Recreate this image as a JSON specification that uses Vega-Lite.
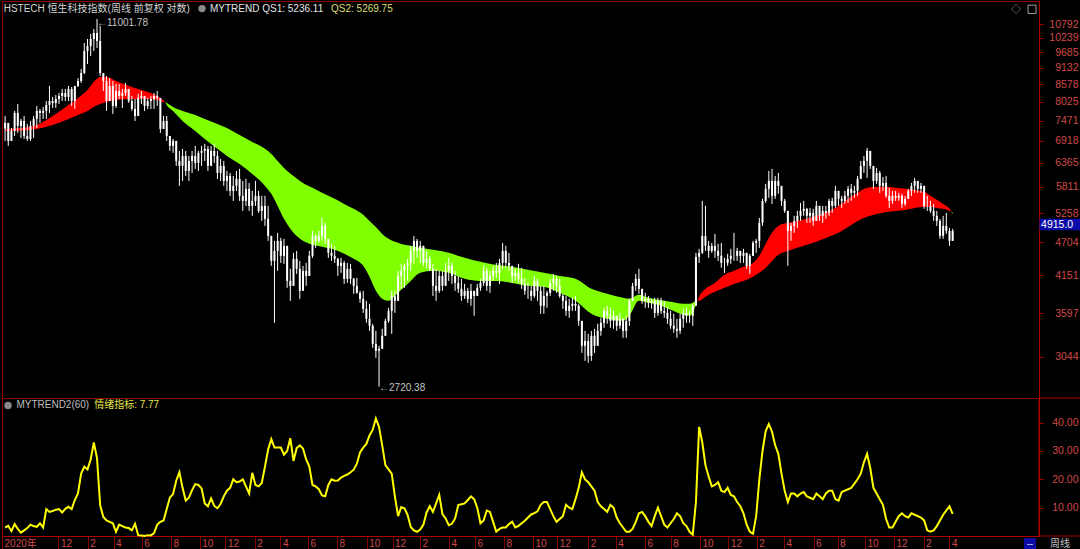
{
"$schema":"https://vega.github.io/schema/vega-lite/v6.json",
"background":"#000000",
"padding":0,
"spacing":0,
"bounds":"flush",
"config":{"view":{"stroke":"#8b0000","strokeWidth":1},"font":"Liberation Sans, Noto Sans CJK SC","axis":{"labelFont":"Liberation Sans, Noto Sans CJK SC","labelFontSize":10.5,"labelColor":"#d04848","domainColor":"#b00000","tickColor":"#b00000","grid":false}},
"datasets":{
"k":[
{"w":0,"o":7250,"h":7610,"l":6920,"c":7410},{"w":1,"o":7410,"h":7410,"l":6790,"c":6920},{"w":2,"o":6920,"h":7270,"l":6920,"c":7187},{"w":3,"o":7187,"h":7755,"l":7052,"c":7697},{"w":4,"o":7697,"h":7964,"l":7133,"c":7326},{"w":5,"o":7326,"h":7524,"l":6999,"c":7466},{"w":6,"o":7466,"h":7610,"l":6972,"c":7052},{"w":7,"o":7052,"h":7382,"l":6920,"c":6972},{"w":8,"o":6972,"h":7466,"l":6920,"c":7326},{"w":9,"o":7326,"h":7610,"l":6999,"c":7524},
{"w":10,"o":7524,"h":7904,"l":7270,"c":7755},{"w":11,"o":7755,"h":7815,"l":7410,"c":7697},{"w":12,"o":7697,"h":7874,"l":7524,"c":7755},{"w":13,"o":7755,"h":8055,"l":7524,"c":7934},{"w":14,"o":7934,"h":8528,"l":7697,"c":8055},{"w":15,"o":8055,"h":8179,"l":7844,"c":7994},{"w":16,"o":7994,"h":8241,"l":7844,"c":8117},{"w":17,"o":8117,"h":8304,"l":7964,"c":8210},{"w":18,"o":8210,"h":8432,"l":8055,"c":8304},{"w":19,"o":8304,"h":8432,"l":8055,"c":8179},
{"w":20,"o":8179,"h":8528,"l":8055,"c":8432},{"w":21,"o":8432,"h":8496,"l":7904,"c":8055},{"w":22,"o":8055,"h":8528,"l":7815,"c":8528},{"w":23,"o":8528,"h":8788,"l":8496,"c":8691},{"w":24,"o":8691,"h":9095,"l":8625,"c":8958},{"w":25,"o":8958,"h":10040,"l":8924,"c":9740},{"w":26,"o":9740,"h":10194,"l":9270,"c":9926},{"w":27,"o":9926,"h":10389,"l":9556,"c":10194},{"w":28,"o":10194,"h":10589,"l":9740,"c":10430},{"w":29,"o":10430,"h":11001.78,"l":9852,"c":10117},
{"w":30,"o":10117,"h":10710,"l":8855,"c":8958},{"w":31,"o":8958,"h":8958,"l":8367,"c":8691},{"w":32,"o":8691,"h":8855,"l":7755,"c":8055},{"w":33,"o":8055,"h":8788,"l":8055,"c":8528},{"w":34,"o":8528,"h":8691,"l":7668,"c":7904},{"w":35,"o":7904,"h":8593,"l":7844,"c":8367},{"w":36,"o":8367,"h":8593,"l":8117,"c":8210},{"w":37,"o":8210,"h":8432,"l":7844,"c":8304},{"w":38,"o":8304,"h":8625,"l":8210,"c":8432},{"w":39,"o":8432,"h":8432,"l":7994,"c":8055},
{"w":40,"o":8055,"h":8210,"l":7755,"c":7815},{"w":41,"o":7815,"h":8117,"l":7466,"c":7610},{"w":42,"o":7610,"h":8273,"l":7610,"c":8148},{"w":43,"o":8148,"h":8367,"l":7964,"c":8210},{"w":44,"o":8210,"h":8210,"l":7755,"c":7904},{"w":45,"o":7904,"h":8148,"l":7815,"c":8055},{"w":46,"o":8055,"h":8210,"l":7815,"c":8117},{"w":47,"o":8117,"h":8304,"l":7815,"c":8210},{"w":48,"o":8210,"h":8367,"l":7904,"c":8148},{"w":49,"o":8148,"h":8148,"l":7133,"c":7243},
{"w":50,"o":7243,"h":7610,"l":7243,"c":7466},{"w":51,"o":7466,"h":7610,"l":6920,"c":7052},{"w":52,"o":7052,"h":7052,"l":6662,"c":6790},{"w":53,"o":6790,"h":6972,"l":6612,"c":6920},{"w":54,"o":6920,"h":6920,"l":6293,"c":6413},{"w":55,"o":6413,"h":6662,"l":5833,"c":6293},{"w":56,"o":6293,"h":6714,"l":5944,"c":6537},{"w":57,"o":6537,"h":6662,"l":6058,"c":6174},{"w":58,"o":6174,"h":6537,"l":5944,"c":6413},{"w":59,"o":6413,"h":6662,"l":6128,"c":6537},
{"w":60,"o":6537,"h":6790,"l":6222,"c":6365},{"w":61,"o":6365,"h":6662,"l":6174,"c":6612},{"w":62,"o":6612,"h":6790,"l":6293,"c":6662},{"w":63,"o":6662,"h":6842,"l":6413,"c":6714},{"w":64,"o":6714,"h":6790,"l":6174,"c":6293},{"w":65,"o":6293,"h":6790,"l":6293,"c":6662},{"w":66,"o":6662,"h":6842,"l":6365,"c":6537},{"w":67,"o":6537,"h":6662,"l":5990,"c":6128},{"w":68,"o":6128,"h":6463,"l":5944,"c":6293},{"w":69,"o":6293,"h":6413,"l":5833,"c":5944},
{"w":70,"o":5944,"h":6174,"l":5723,"c":6058},{"w":71,"o":6058,"h":6128,"l":5616,"c":5723},{"w":72,"o":5723,"h":6058,"l":5509,"c":5833},{"w":73,"o":5833,"h":6174,"l":5723,"c":5990},{"w":74,"o":5990,"h":6222,"l":5509,"c":5616},{"w":75,"o":5616,"h":5944,"l":5304,"c":5509},{"w":76,"o":5509,"h":5990,"l":5406,"c":5767},{"w":77,"o":5767,"h":5899,"l":5304,"c":5406},{"w":78,"o":5406,"h":5723,"l":5205,"c":5509},{"w":79,"o":5509,"h":5944,"l":5406,"c":5616},
{"w":80,"o":5616,"h":5723,"l":5264,"c":5304},{"w":81,"o":5304,"h":5616,"l":5106,"c":5406},{"w":82,"o":5406,"h":5616,"l":5010,"c":5146},{"w":83,"o":5146,"h":5406,"l":4733,"c":4824},{"w":84,"o":4824,"h":4824,"l":4304,"c":4386},{"w":85,"o":4386,"h":4733,"l":3466,"c":4556},{"w":86,"o":4556,"h":4879,"l":4223,"c":4733},{"w":87,"o":4733,"h":4787,"l":4353,"c":4471},{"w":88,"o":4471,"h":4769,"l":4337,"c":4644},{"w":89,"o":4644,"h":4644,"l":3959,"c":4065},
{"w":90,"o":4065,"h":4256,"l":3768,"c":3989},{"w":91,"o":3989,"h":4522,"l":3989,"c":4420},{"w":92,"o":4420,"h":4556,"l":4175,"c":4256},{"w":93,"o":4256,"h":4386,"l":3797,"c":3914},{"w":94,"o":3914,"h":4304,"l":3914,"c":4223},{"w":95,"o":4223,"h":4353,"l":3989,"c":4143},{"w":96,"o":4143,"h":4556,"l":4143,"c":4471},{"w":97,"o":4471,"h":4916,"l":4437,"c":4824},{"w":98,"o":4824,"h":4860,"l":4609,"c":4733},{"w":99,"o":4733,"h":4916,"l":4697,"c":4824},
{"w":100,"o":4824,"h":5165,"l":4733,"c":5010},{"w":101,"o":5010,"h":5068,"l":4679,"c":4769},{"w":102,"o":4769,"h":4769,"l":4437,"c":4522},{"w":103,"o":4522,"h":4679,"l":4386,"c":4471},{"w":104,"o":4471,"h":4644,"l":4353,"c":4420},{"w":105,"o":4420,"h":4437,"l":4143,"c":4304},{"w":106,"o":4304,"h":4437,"l":4191,"c":4353},{"w":107,"o":4353,"h":4386,"l":4019,"c":4097},{"w":108,"o":4097,"h":4353,"l":4034,"c":4256},{"w":109,"o":4256,"h":4337,"l":4019,"c":4097},
{"w":110,"o":4097,"h":4112,"l":3870,"c":3989},{"w":111,"o":3989,"h":4112,"l":3870,"c":3884},{"w":112,"o":3884,"h":3914,"l":3740,"c":3797},{"w":113,"o":3797,"h":3914,"l":3600,"c":3656},{"w":114,"o":3656,"h":3768,"l":3466,"c":3519},{"w":115,"o":3519,"h":3726,"l":3362,"c":3427},{"w":116,"o":3427,"h":3453,"l":3152,"c":3200},{"w":117,"o":3200,"h":3362,"l":3034,"c":3116},{"w":118,"o":3116,"h":3176,"l":2720.38,"c":3140},{"w":119,"o":3140,"h":3388,"l":3140,"c":3299},
{"w":120,"o":3299,"h":3519,"l":3299,"c":3492},{"w":121,"o":3492,"h":3670,"l":3466,"c":3627},{"w":122,"o":3627,"h":3914,"l":3324,"c":3840},{"w":123,"o":3840,"h":3914,"l":3600,"c":3768},{"w":124,"o":3768,"h":4223,"l":3768,"c":4143},{"w":125,"o":4143,"h":4337,"l":3944,"c":4223},{"w":126,"o":4223,"h":4337,"l":3959,"c":4304},{"w":127,"o":4304,"h":4420,"l":4065,"c":4353},{"w":128,"o":4353,"h":4644,"l":4223,"c":4556},{"w":129,"o":4556,"h":4824,"l":4337,"c":4733},
{"w":130,"o":4733,"h":4769,"l":4437,"c":4556},{"w":131,"o":4556,"h":4733,"l":4353,"c":4644},{"w":132,"o":4644,"h":4644,"l":4304,"c":4353},{"w":133,"o":4353,"h":4556,"l":4272,"c":4420},{"w":134,"o":4420,"h":4471,"l":4223,"c":4256},{"w":135,"o":4256,"h":4337,"l":3840,"c":3989},{"w":136,"o":3989,"h":4256,"l":3768,"c":3914},{"w":137,"o":3914,"h":4223,"l":3884,"c":4143},{"w":138,"o":4143,"h":4223,"l":3914,"c":3989},{"w":139,"o":3989,"h":4353,"l":3989,"c":4223},
{"w":140,"o":4223,"h":4437,"l":4065,"c":4304},{"w":141,"o":4304,"h":4353,"l":4019,"c":4143},{"w":142,"o":4143,"h":4223,"l":3914,"c":4034},{"w":143,"o":4034,"h":4143,"l":3884,"c":3944},{"w":144,"o":3944,"h":4097,"l":3768,"c":3840},{"w":145,"o":3840,"h":4019,"l":3797,"c":3914},{"w":146,"o":3914,"h":3959,"l":3740,"c":3797},{"w":147,"o":3797,"h":4019,"l":3698,"c":3914},{"w":148,"o":3914,"h":3914,"l":3560,"c":3840},{"w":149,"o":3840,"h":4019,"l":3840,"c":3959},
{"w":150,"o":3959,"h":4097,"l":3914,"c":4034},{"w":151,"o":4034,"h":4304,"l":3989,"c":4223},{"w":152,"o":4223,"h":4272,"l":3914,"c":3989},{"w":153,"o":3989,"h":4223,"l":3884,"c":4143},{"w":154,"o":4143,"h":4304,"l":4065,"c":4223},{"w":155,"o":4223,"h":4353,"l":4112,"c":4191},{"w":156,"o":4191,"h":4420,"l":4019,"c":4353},{"w":157,"o":4353,"h":4697,"l":4256,"c":4556},{"w":158,"o":4556,"h":4644,"l":4272,"c":4353},{"w":159,"o":4353,"h":4522,"l":4223,"c":4304},
{"w":160,"o":4304,"h":4304,"l":4034,"c":4143},{"w":161,"o":4143,"h":4256,"l":4065,"c":4191},{"w":162,"o":4191,"h":4337,"l":4034,"c":4097},{"w":163,"o":4097,"h":4272,"l":3944,"c":4019},{"w":164,"o":4019,"h":4112,"l":3855,"c":3914},{"w":165,"o":3914,"h":4034,"l":3797,"c":3914},{"w":166,"o":3914,"h":3989,"l":3768,"c":3840},{"w":167,"o":3840,"h":4143,"l":3812,"c":4065},{"w":168,"o":4065,"h":4097,"l":3768,"c":3914},{"w":169,"o":3914,"h":3989,"l":3587,"c":3698},
{"w":170,"o":3698,"h":3989,"l":3587,"c":3840},{"w":171,"o":3840,"h":3914,"l":3670,"c":3884},{"w":172,"o":3884,"h":4097,"l":3840,"c":4034},{"w":173,"o":4034,"h":4175,"l":3914,"c":4097},{"w":174,"o":4097,"h":4143,"l":3884,"c":3989},{"w":175,"o":3989,"h":4097,"l":3812,"c":3840},{"w":176,"o":3840,"h":3870,"l":3656,"c":3768},{"w":177,"o":3768,"h":3840,"l":3560,"c":3627},{"w":178,"o":3627,"h":3797,"l":3533,"c":3698},{"w":179,"o":3698,"h":3812,"l":3627,"c":3726},
{"w":180,"o":3726,"h":3840,"l":3627,"c":3698},{"w":181,"o":3698,"h":3726,"l":3427,"c":3492},{"w":182,"o":3492,"h":3492,"l":3092,"c":3176},{"w":183,"o":3176,"h":3362,"l":2999,"c":3236},{"w":184,"o":3236,"h":3324,"l":2977,"c":3057},{"w":185,"o":3057,"h":3362,"l":2999,"c":3299},{"w":186,"o":3299,"h":3388,"l":3092,"c":3176},{"w":187,"o":3176,"h":3453,"l":3176,"c":3362},{"w":188,"o":3362,"h":3533,"l":3299,"c":3466},{"w":189,"o":3466,"h":3670,"l":3401,"c":3627},
{"w":190,"o":3627,"h":3698,"l":3453,"c":3560},{"w":191,"o":3560,"h":3670,"l":3401,"c":3492},{"w":192,"o":3492,"h":3627,"l":3388,"c":3560},{"w":193,"o":3560,"h":3560,"l":3362,"c":3427},{"w":194,"o":3427,"h":3600,"l":3388,"c":3519},{"w":195,"o":3519,"h":3519,"l":3274,"c":3362},{"w":196,"o":3362,"h":3560,"l":3274,"c":3492},{"w":197,"o":3492,"h":3797,"l":3427,"c":3768},{"w":198,"o":3768,"h":4034,"l":3768,"c":3989},{"w":199,"o":3989,"h":4175,"l":3914,"c":4097},
{"w":200,"o":4097,"h":4256,"l":3870,"c":3944},{"w":201,"o":3944,"h":3944,"l":3726,"c":3768},{"w":202,"o":3768,"h":3884,"l":3670,"c":3797},{"w":203,"o":3797,"h":3840,"l":3670,"c":3740},{"w":204,"o":3740,"h":3797,"l":3656,"c":3768},{"w":205,"o":3768,"h":3812,"l":3533,"c":3600},{"w":206,"o":3600,"h":3812,"l":3560,"c":3768},{"w":207,"o":3768,"h":3812,"l":3587,"c":3627},{"w":208,"o":3627,"h":3768,"l":3533,"c":3600},{"w":209,"o":3600,"h":3684,"l":3453,"c":3519},
{"w":210,"o":3519,"h":3627,"l":3388,"c":3427},{"w":211,"o":3427,"h":3587,"l":3337,"c":3388},{"w":212,"o":3388,"h":3519,"l":3274,"c":3362},{"w":213,"o":3362,"h":3587,"l":3324,"c":3519},{"w":214,"o":3519,"h":3656,"l":3401,"c":3600},{"w":215,"o":3600,"h":3670,"l":3466,"c":3560},{"w":216,"o":3560,"h":3627,"l":3466,"c":3560},{"w":217,"o":3560,"h":3726,"l":3427,"c":3698},{"w":218,"o":3698,"h":4522,"l":3698,"c":4454},{"w":219,"o":4454,"h":4592,"l":4353,"c":4522},
{"w":220,"o":4522,"h":5509,"l":4505,"c":4824},{"w":221,"o":4824,"h":5406,"l":4556,"c":4644},{"w":222,"o":4644,"h":4733,"l":4437,"c":4556},{"w":223,"o":4556,"h":4697,"l":4522,"c":4644},{"w":224,"o":4644,"h":4860,"l":4437,"c":4556},{"w":225,"o":4556,"h":4679,"l":4386,"c":4471},{"w":226,"o":4471,"h":4697,"l":4272,"c":4353},{"w":227,"o":4353,"h":4437,"l":4191,"c":4353},{"w":228,"o":4353,"h":4505,"l":4304,"c":4420},{"w":229,"o":4420,"h":4592,"l":4337,"c":4471},
{"w":230,"o":4471,"h":4879,"l":4386,"c":4471},{"w":231,"o":4471,"h":4609,"l":4386,"c":4556},{"w":232,"o":4556,"h":4556,"l":4353,"c":4471},{"w":233,"o":4471,"h":4592,"l":4353,"c":4522},{"w":234,"o":4522,"h":4522,"l":4256,"c":4304},{"w":235,"o":4304,"h":4505,"l":4175,"c":4471},{"w":236,"o":4471,"h":4733,"l":4471,"c":4697},{"w":237,"o":4697,"h":4769,"l":4522,"c":4733},{"w":238,"o":4733,"h":5165,"l":4609,"c":5068},{"w":239,"o":5068,"h":5553,"l":5010,"c":5509},
{"w":240,"o":5509,"h":5877,"l":5468,"c":5767},{"w":241,"o":5767,"h":6174,"l":5574,"c":5944},{"w":242,"o":5944,"h":6222,"l":5447,"c":5616},{"w":243,"o":5616,"h":6058,"l":5553,"c":5944},{"w":244,"o":5944,"h":6128,"l":5659,"c":5833},{"w":245,"o":5833,"h":5833,"l":5406,"c":5509},{"w":246,"o":5509,"h":5553,"l":5264,"c":5304},{"w":247,"o":5304,"h":5304,"l":4304,"c":4916},{"w":248,"o":4916,"h":5068,"l":4733,"c":5010},{"w":249,"o":5010,"h":5205,"l":4879,"c":5106},
{"w":250,"o":5106,"h":5304,"l":4972,"c":5205},{"w":251,"o":5205,"h":5468,"l":5106,"c":5304},{"w":252,"o":5304,"h":5509,"l":5205,"c":5345},{"w":253,"o":5345,"h":5365,"l":5068,"c":5205},{"w":254,"o":5205,"h":5365,"l":5068,"c":5264},{"w":255,"o":5264,"h":5345,"l":5010,"c":5106},{"w":256,"o":5106,"h":5509,"l":5106,"c":5406},{"w":257,"o":5406,"h":5406,"l":5106,"c":5205},{"w":258,"o":5205,"h":5406,"l":5068,"c":5304},{"w":259,"o":5304,"h":5406,"l":5146,"c":5264},
{"w":260,"o":5264,"h":5553,"l":5205,"c":5509},{"w":261,"o":5509,"h":5574,"l":5264,"c":5406},{"w":262,"o":5406,"h":5833,"l":5365,"c":5723},{"w":263,"o":5723,"h":5723,"l":5406,"c":5553},{"w":264,"o":5553,"h":5616,"l":5365,"c":5509},{"w":265,"o":5509,"h":5723,"l":5447,"c":5616},{"w":266,"o":5616,"h":5833,"l":5468,"c":5767},{"w":267,"o":5767,"h":5877,"l":5509,"c":5680},{"w":268,"o":5680,"h":5833,"l":5574,"c":5723},{"w":269,"o":5723,"h":6058,"l":5616,"c":5990},
{"w":270,"o":5990,"h":6413,"l":5990,"c":6293},{"w":271,"o":6293,"h":6537,"l":6128,"c":6413},{"w":272,"o":6413,"h":6740,"l":6012,"c":6662},{"w":273,"o":6662,"h":6662,"l":6222,"c":6293},{"w":274,"o":6293,"h":6293,"l":5767,"c":5944},{"w":275,"o":5944,"h":6246,"l":5877,"c":6128},{"w":276,"o":6128,"h":6174,"l":5680,"c":5833},{"w":277,"o":5833,"h":6035,"l":5723,"c":5899},{"w":278,"o":5899,"h":6058,"l":5574,"c":5616},{"w":279,"o":5616,"h":5789,"l":5365,"c":5509},
{"w":280,"o":5509,"h":5723,"l":5447,"c":5616},{"w":281,"o":5616,"h":5723,"l":5509,"c":5574},{"w":282,"o":5574,"h":5680,"l":5509,"c":5616},{"w":283,"o":5616,"h":5659,"l":5365,"c":5447},{"w":284,"o":5447,"h":5616,"l":5406,"c":5553},{"w":285,"o":5553,"h":5767,"l":5553,"c":5723},{"w":286,"o":5723,"h":5899,"l":5616,"c":5833},{"w":287,"o":5833,"h":6012,"l":5680,"c":5944},{"w":288,"o":5944,"h":5944,"l":5680,"c":5767},{"w":289,"o":5767,"h":5899,"l":5680,"c":5833},
{"w":290,"o":5833,"h":5833,"l":5345,"c":5406},{"w":291,"o":5406,"h":5616,"l":5304,"c":5406},{"w":292,"o":5406,"h":5509,"l":5264,"c":5304},{"w":293,"o":5304,"h":5447,"l":5106,"c":5205},{"w":294,"o":5205,"h":5304,"l":5010,"c":5106},{"w":295,"o":5106,"h":5146,"l":4769,"c":4824},{"w":296,"o":4824,"h":5205,"l":4769,"c":5010},{"w":297,"o":5010,"h":5264,"l":4860,"c":4916},{"w":298,"o":4916,"h":4972,"l":4644,"c":4733},{"w":299,"o":4733,"h":4954,"l":4733,"c":4915.0}
],
"band":[
{"w":0,"qs1":7243,"qs2":7187,"trend":"up","seg":1},{"w":5,"qs1":7270,"qs2":7201,"trend":"up","seg":1},{"w":10,"qs1":7354,"qs2":7243,"trend":"up","seg":1},{"w":15,"qs1":7610,"qs2":7354,"trend":"up","seg":1},{"w":20,"qs1":7934,"qs2":7524,"trend":"up","seg":1},{"w":23,"qs1":8148,"qs2":7639,"trend":"up","seg":1},{"w":26,"qs1":8400,"qs2":7755,"trend":"up","seg":1},{"w":28,"qs1":8658,"qs2":7874,"trend":"up","seg":1},{"w":30,"qs1":8821,"qs2":7964,"trend":"up","seg":1},{"w":32,"qs1":8821,"qs2":8025,"trend":"up","seg":1},{"w":35,"qs1":8691,"qs2":8086,"trend":"up","seg":1},{"w":40,"qs1":8496,"qs2":8117,"trend":"up","seg":1},{"w":45,"qs1":8336,"qs2":8117,"trend":"up","seg":1},{"w":48,"qs1":8210,"qs2":8086,"trend":"up","seg":1},{"w":50,"qs1":8070,"qs2":8025,"trend":"up","seg":1},{"w":50.5,"qs1":8025,"qs2":8025,"trend":"up","seg":1},
{"w":50.5,"qs1":8025,"qs2":8025,"trend":"down","seg":2},{"w":51,"qs1":7934,"qs2":7994,"trend":"down","seg":2},{"w":53,"qs1":7755,"qs2":7874,"trend":"down","seg":2},{"w":56,"qs1":7466,"qs2":7755,"trend":"down","seg":2},{"w":60,"qs1":7187,"qs2":7639,"trend":"down","seg":2},{"w":63,"qs1":6972,"qs2":7524,"trend":"down","seg":2},{"w":67,"qs1":6714,"qs2":7382,"trend":"down","seg":2},{"w":70,"qs1":6537,"qs2":7270,"trend":"down","seg":2},{"w":74,"qs1":6341,"qs2":7079,"trend":"down","seg":2},{"w":78,"qs1":6105,"qs2":6894,"trend":"down","seg":2},{"w":82,"qs1":5833,"qs2":6714,"trend":"down","seg":2},{"w":84,"qs1":5659,"qs2":6587,"trend":"down","seg":2},{"w":86,"qs1":5406,"qs2":6413,"trend":"down","seg":2},{"w":88,"qs1":5146,"qs2":6246,"trend":"down","seg":2},{"w":91,"qs1":4879,"qs2":6058,"trend":"down","seg":2},{"w":94,"qs1":4733,"qs2":5899,"trend":"down","seg":2},{"w":97,"qs1":4662,"qs2":5789,"trend":"down","seg":2},{"w":100,"qs1":4627,"qs2":5680,"trend":"down","seg":2},{"w":104,"qs1":4574,"qs2":5553,"trend":"down","seg":2},{"w":107,"qs1":4505,"qs2":5447,"trend":"down","seg":2},{"w":110,"qs1":4420,"qs2":5345,"trend":"down","seg":2},{"w":113,"qs1":4304,"qs2":5225,"trend":"down","seg":2},{"w":115,"qs1":4128,"qs2":5106,"trend":"down","seg":2},{"w":117,"qs1":3914,"qs2":4991,"trend":"down","seg":2},{"w":119,"qs1":3797,"qs2":4860,"trend":"down","seg":2},{"w":121,"qs1":3768,"qs2":4769,"trend":"down","seg":2},{"w":123,"qs1":3840,"qs2":4715,"trend":"down","seg":2},{"w":125,"qs1":3929,"qs2":4679,"trend":"down","seg":2},{"w":128,"qs1":4065,"qs2":4644,"trend":"down","seg":2},{"w":131,"qs1":4191,"qs2":4609,"trend":"down","seg":2},{"w":135,"qs1":4223,"qs2":4574,"trend":"down","seg":2},{"w":140,"qs1":4191,"qs2":4522,"trend":"down","seg":2},{"w":145,"qs1":4097,"qs2":4437,"trend":"down","seg":2},{"w":150,"qs1":4065,"qs2":4370,"trend":"down","seg":2},{"w":155,"qs1":4065,"qs2":4320,"trend":"down","seg":2},{"w":160,"qs1":4034,"qs2":4288,"trend":"down","seg":2},{"w":165,"qs1":3989,"qs2":4240,"trend":"down","seg":2},{"w":170,"qs1":3974,"qs2":4191,"trend":"down","seg":2},{"w":175,"qs1":3884,"qs2":4143,"trend":"down","seg":2},{"w":180,"qs1":3768,"qs2":4097,"trend":"down","seg":2},{"w":185,"qs1":3587,"qs2":3944,"trend":"down","seg":2},{"w":190,"qs1":3519,"qs2":3870,"trend":"down","seg":2},{"w":195,"qs1":3492,"qs2":3812,"trend":"down","seg":2},{"w":197,"qs1":3560,"qs2":3797,"trend":"down","seg":2},{"w":200,"qs1":3768,"qs2":3855,"trend":"down","seg":2},{"w":203,"qs1":3740,"qs2":3812,"trend":"down","seg":2},{"w":206,"qs1":3712,"qs2":3783,"trend":"down","seg":2},{"w":210,"qs1":3641,"qs2":3754,"trend":"down","seg":2},{"w":214,"qs1":3573,"qs2":3726,"trend":"down","seg":2},{"w":216,"qs1":3560,"qs2":3726,"trend":"down","seg":2},{"w":217,"qs1":3600,"qs2":3740,"trend":"down","seg":2},{"w":218,"qs1":3712,"qs2":3768,"trend":"down","seg":2},{"w":218.5,"qs1":3768,"qs2":3768,"trend":"down","seg":2},
{"w":218.5,"qs1":3768,"qs2":3768,"trend":"up","seg":3},{"w":219,"qs1":3826,"qs2":3768,"trend":"up","seg":3},{"w":221,"qs1":3944,"qs2":3826,"trend":"up","seg":3},{"w":224,"qs1":4034,"qs2":3899,"trend":"up","seg":3},{"w":227,"qs1":4159,"qs2":3959,"trend":"up","seg":3},{"w":230,"qs1":4223,"qs2":4019,"trend":"up","seg":3},{"w":233,"qs1":4288,"qs2":4065,"trend":"up","seg":3},{"w":236,"qs1":4353,"qs2":4128,"trend":"up","seg":3},{"w":238,"qs1":4471,"qs2":4191,"trend":"up","seg":3},{"w":240,"qs1":4679,"qs2":4272,"trend":"up","seg":3},{"w":242,"qs1":4879,"qs2":4386,"trend":"up","seg":3},{"w":244,"qs1":5010,"qs2":4488,"trend":"up","seg":3},{"w":247,"qs1":5068,"qs2":4556,"trend":"up","seg":3},{"w":250,"qs1":5106,"qs2":4609,"trend":"up","seg":3},{"w":253,"qs1":5146,"qs2":4662,"trend":"up","seg":3},{"w":256,"qs1":5205,"qs2":4715,"trend":"up","seg":3},{"w":260,"qs1":5304,"qs2":4806,"trend":"up","seg":3},{"w":263,"qs1":5406,"qs2":4879,"trend":"up","seg":3},{"w":266,"qs1":5553,"qs2":4991,"trend":"up","seg":3},{"w":269,"qs1":5680,"qs2":5106,"trend":"up","seg":3},{"w":272,"qs1":5789,"qs2":5185,"trend":"up","seg":3},{"w":275,"qs1":5811,"qs2":5244,"trend":"up","seg":3},{"w":278,"qs1":5811,"qs2":5284,"trend":"up","seg":3},{"w":281,"qs1":5789,"qs2":5304,"trend":"up","seg":3},{"w":284,"qs1":5767,"qs2":5324,"trend":"up","seg":3},{"w":287,"qs1":5745,"qs2":5365,"trend":"up","seg":3},{"w":290,"qs1":5702,"qs2":5385,"trend":"up","seg":3},{"w":292,"qs1":5616,"qs2":5385,"trend":"up","seg":3},{"w":294,"qs1":5531,"qs2":5365,"trend":"up","seg":3},{"w":296,"qs1":5447,"qs2":5345,"trend":"up","seg":3},{"w":298,"qs1":5345,"qs2":5304,"trend":"up","seg":3},{"w":298.55,"qs1":5287,"qs2":5287,"trend":"up","seg":3},
{"w":298.55,"qs1":5287,"qs2":5287,"trend":"down","seg":4},{"w":299,"qs1":5236.11,"qs2":5269.75,"trend":"down","seg":4}
],
"ind":[
{"w":0,"v":3},{"w":1,"v":3.6},{"w":2,"v":1.7},{"w":3,"v":4.2},{"w":4,"v":2.5},{"w":5,"v":1.2},{"w":6,"v":2},{"w":7,"v":2.8},{"w":8,"v":4},{"w":9,"v":3.5},
{"w":10,"v":3.2},{"w":11,"v":4.5},{"w":12,"v":3},{"w":13,"v":9.5},{"w":14,"v":8.5},{"w":15,"v":8.8},{"w":16,"v":9.3},{"w":17,"v":9.5},{"w":18,"v":8.3},{"w":19,"v":9.6},
{"w":20,"v":10.3},{"w":21,"v":9.5},{"w":22,"v":12.7},{"w":23,"v":15},{"w":24,"v":22},{"w":25,"v":24.5},{"w":26,"v":23.5},{"w":27,"v":27},{"w":28,"v":33},{"w":29,"v":27.5},
{"w":30,"v":10.8},{"w":31,"v":6.7},{"w":32,"v":5.5},{"w":33,"v":5},{"w":34,"v":4.5},{"w":35,"v":1.5},{"w":36,"v":4},{"w":37,"v":3.5},{"w":38,"v":3},{"w":39,"v":2.8},
{"w":40,"v":2},{"w":41,"v":4.3},{"w":42,"v":0.3},{"w":43,"v":0.2},{"w":44,"v":0},{"w":45,"v":0.3},{"w":46,"v":0.2},{"w":47,"v":1},{"w":48,"v":4},{"w":49,"v":5},
{"w":50,"v":5.5},{"w":51,"v":9.5},{"w":52,"v":13.6},{"w":53,"v":14.8},{"w":54,"v":19.5},{"w":55,"v":22.5},{"w":56,"v":17},{"w":57,"v":12.5},{"w":58,"v":13.5},{"w":59,"v":16.2},
{"w":60,"v":18.3},{"w":61,"v":18},{"w":62,"v":16.8},{"w":63,"v":11.5},{"w":64,"v":10.5},{"w":65,"v":13.3},{"w":66,"v":10.6},{"w":67,"v":9.8},{"w":68,"v":11.3},{"w":69,"v":14},
{"w":70,"v":16},{"w":71,"v":17},{"w":72,"v":20},{"w":73,"v":19},{"w":74,"v":19.2},{"w":75,"v":20},{"w":76,"v":17.5},{"w":77,"v":15},{"w":78,"v":22.3},{"w":79,"v":18},
{"w":80,"v":17.5},{"w":81,"v":18.7},{"w":82,"v":24.5},{"w":83,"v":30.5},{"w":84,"v":34.2},{"w":85,"v":31.2},{"w":86,"v":31.2},{"w":87,"v":31.2},{"w":88,"v":28.7},{"w":89,"v":30},
{"w":90,"v":34.5},{"w":91,"v":26.5},{"w":92,"v":31},{"w":93,"v":32},{"w":94,"v":30.9},{"w":95,"v":27},{"w":96,"v":24.5},{"w":97,"v":18},{"w":98,"v":17.5},{"w":99,"v":16.5},
{"w":100,"v":14.3},{"w":101,"v":14},{"w":102,"v":18},{"w":103,"v":20},{"w":104,"v":19.5},{"w":105,"v":19.6},{"w":106,"v":20.6},{"w":107,"v":21.2},{"w":108,"v":21.7},{"w":109,"v":22.5},
{"w":110,"v":23.4},{"w":111,"v":25.5},{"w":112,"v":29.5},{"w":113,"v":31.2},{"w":114,"v":32.5},{"w":115,"v":35.5},{"w":116,"v":37.5},{"w":117,"v":41.5},{"w":118,"v":38.5},{"w":119,"v":32},
{"w":120,"v":25},{"w":121,"v":23.5},{"w":122,"v":22},{"w":123,"v":14},{"w":124,"v":7},{"w":125,"v":10.2},{"w":126,"v":9.8},{"w":127,"v":7.5},{"w":128,"v":3.2},{"w":129,"v":2},
{"w":130,"v":1.5},{"w":131,"v":2.3},{"w":132,"v":4},{"w":133,"v":8.3},{"w":134,"v":10.5},{"w":135,"v":8.5},{"w":136,"v":11.5},{"w":137,"v":14.5},{"w":138,"v":7.7},{"w":139,"v":6.2},
{"w":140,"v":3.8},{"w":141,"v":4.3},{"w":142,"v":6.2},{"w":143,"v":10.9},{"w":144,"v":11.2},{"w":145,"v":11.5},{"w":146,"v":12.7},{"w":147,"v":14},{"w":148,"v":13},{"w":149,"v":10},
{"w":150,"v":4.5},{"w":151,"v":5.5},{"w":152,"v":9},{"w":153,"v":8.5},{"w":154,"v":5},{"w":155,"v":1.5},{"w":156,"v":2.5},{"w":157,"v":3},{"w":158,"v":3},{"w":159,"v":4.2},
{"w":160,"v":5},{"w":161,"v":3},{"w":162,"v":3.6},{"w":163,"v":4.5},{"w":164,"v":5.4},{"w":165,"v":6.5},{"w":166,"v":7.6},{"w":167,"v":8.1},{"w":168,"v":8.7},{"w":169,"v":11},
{"w":170,"v":12},{"w":171,"v":12},{"w":172,"v":9.5},{"w":173,"v":7},{"w":174,"v":5},{"w":175,"v":6},{"w":176,"v":7},{"w":177,"v":11},{"w":178,"v":10},{"w":179,"v":9.5},
{"w":180,"v":13},{"w":181,"v":17},{"w":182,"v":22.5},{"w":183,"v":20},{"w":184,"v":19},{"w":185,"v":17.5},{"w":186,"v":16},{"w":187,"v":12},{"w":188,"v":10.5},{"w":189,"v":9.5},
{"w":190,"v":8.5},{"w":191,"v":11},{"w":192,"v":10},{"w":193,"v":6.5},{"w":194,"v":4.5},{"w":195,"v":3},{"w":196,"v":1.5},{"w":197,"v":1.5},{"w":198,"v":2.5},{"w":199,"v":5},
{"w":200,"v":8},{"w":201,"v":8.5},{"w":202,"v":7},{"w":203,"v":5},{"w":204,"v":3.5},{"w":205,"v":7},{"w":206,"v":10},{"w":207,"v":7},{"w":208,"v":4},{"w":209,"v":3},
{"w":210,"v":4.5},{"w":211,"v":6},{"w":212,"v":8},{"w":213,"v":7},{"w":214,"v":4.5},{"w":215,"v":3.5},{"w":216,"v":1.5},{"w":217,"v":0.5},{"w":218,"v":12},{"w":219,"v":38.5},
{"w":220,"v":33},{"w":221,"v":25},{"w":222,"v":21},{"w":223,"v":17.5},{"w":224,"v":18},{"w":225,"v":19},{"w":226,"v":16},{"w":227,"v":15.5},{"w":228,"v":17},{"w":229,"v":14.5},
{"w":230,"v":14},{"w":231,"v":12},{"w":232,"v":10.5},{"w":233,"v":8},{"w":234,"v":4},{"w":235,"v":1.5},{"w":236,"v":0.8},{"w":237,"v":7},{"w":238,"v":20},{"w":239,"v":30},
{"w":240,"v":37},{"w":241,"v":39.5},{"w":242,"v":36.8},{"w":243,"v":32},{"w":244,"v":29},{"w":245,"v":22},{"w":246,"v":16},{"w":247,"v":12},{"w":248,"v":15},{"w":249,"v":15},
{"w":250,"v":14},{"w":251,"v":15},{"w":252,"v":15.5},{"w":253,"v":14},{"w":254,"v":13.5},{"w":255,"v":13},{"w":256,"v":15},{"w":257,"v":14},{"w":258,"v":13},{"w":259,"v":15},
{"w":260,"v":16},{"w":261,"v":16},{"w":262,"v":13},{"w":263,"v":12.5},{"w":264,"v":15.5},{"w":265,"v":16},{"w":266,"v":16.5},{"w":267,"v":17},{"w":268,"v":18.5},{"w":269,"v":20},
{"w":270,"v":22},{"w":271,"v":26},{"w":272,"v":29},{"w":273,"v":24},{"w":274,"v":17},{"w":275,"v":15},{"w":276,"v":13},{"w":277,"v":11},{"w":278,"v":6},{"w":279,"v":3},
{"w":280,"v":3},{"w":281,"v":5},{"w":282,"v":7},{"w":283,"v":8},{"w":284,"v":7},{"w":285,"v":6.5},{"w":286,"v":8},{"w":287,"v":7.5},{"w":288,"v":7},{"w":289,"v":6.5},
{"w":290,"v":5.5},{"w":291,"v":2},{"w":292,"v":1.5},{"w":293,"v":2},{"w":294,"v":3.5},{"w":295,"v":5.5},{"w":296,"v":7.5},{"w":297,"v":9},{"w":298,"v":10.5},{"w":299,"v":7.77}
]
},
"vconcat":[
{
"width":1037,"height":397,
"layer":[
{"data":{"name":"band"},"mark":{"type":"area","interpolate":"monotone"},
"encoding":{
"x":{"field":"w","type":"quantitative","scale":{"domain":[-0.978,326.25],"nice":false,"zero":false,"padding":0},"axis":null},
"y":{"field":"qs1","type":"quantitative","scale":{"type":"log","domain":[2604.6,11778],"nice":false,"padding":0},"axis":{"orient":"right","title":null,"values":[3044,3597,4151,4704,5258,5811,6365,6918,7471,8025,8578,9132,9685,10239,10792],"format":"d","labelAlign":"right","labelPadding":35,"tickSize":4,"labelOverlap":false,"labelFlush":false,"labelBound":false}},
"y2":{"field":"qs2"},
"color":{"field":"trend","type":"nominal","scale":{"domain":["up","down"],"range":["#ff0000","#80ff00"]},"legend":null},
"detail":{"field":"seg","type":"nominal"}
}},
{"data":{"name":"k"},"mark":{"type":"rule","color":"#ffffff","strokeWidth":1},
"encoding":{"x":{"field":"w","type":"quantitative"},"y":{"field":"h","type":"quantitative"},"y2":{"field":"l"}}},
{"data":{"name":"k"},"mark":{"type":"bar","color":"#ffffff","width":2},
"encoding":{"x":{"field":"w","type":"quantitative"},"y":{"field":"o","type":"quantitative"},"y2":{"field":"c"}}},
{"data":{"values":[{}]},"mark":{"type":"text","text":"HSTECH 恒生科技指数(周线 前复权 对数)","align":"left","baseline":"middle","fontSize":10,"color":"#d4d4d4"},
"encoding":{"x":{"datum":-0.44,"type":"quantitative"},"y":{"datum":11443,"type":"quantitative"}}},
{"data":{"values":[{}]},"mark":{"type":"point","shape":"circle","filled":true,"size":55,"color":"#8a8a8a","opacity":1},
"encoding":{"x":{"datum":62.13,"type":"quantitative"},"y":{"datum":11443,"type":"quantitative"}}},
{"data":{"values":[{}]},"mark":{"type":"text","text":"MYTREND  QS1: 5236.11","align":"left","baseline":"middle","fontSize":10,"color":"#e4e4e4"},
"encoding":{"x":{"datum":64.66,"type":"quantitative"},"y":{"datum":11443,"type":"quantitative"}}},
{"data":{"values":[{}]},"mark":{"type":"text","text":"QS2: 5269.75","align":"left","baseline":"middle","fontSize":10,"color":"#dede70"},
"encoding":{"x":{"datum":102.84,"type":"quantitative"},"y":{"datum":11443,"type":"quantitative"}}},
{"data":{"values":[{}]},"mark":{"type":"text","text":"←11001.78","align":"left","baseline":"middle","fontSize":10,"color":"#c4c4c4"},
"encoding":{"x":{"datum":29,"type":"quantitative"},"y":{"datum":10817,"type":"quantitative"}}},
{"data":{"values":[{}]},"mark":{"type":"text","text":"←2720.38","align":"left","baseline":"middle","fontSize":10,"color":"#c4c4c4"},
"encoding":{"x":{"datum":118,"type":"quantitative"},"y":{"datum":2709,"type":"quantitative"}}},
{"data":{"values":[{}]},"mark":{"type":"rect","color":"#0c0ca8"},
"encoding":{"x":{"datum":326.4,"type":"quantitative"},"x2":{"datum":339.8},"y":{"datum":5149,"type":"quantitative"},"y2":{"datum":4927}}},
{"data":{"values":[{}]},"mark":{"type":"text","text":"4915.0","align":"left","baseline":"middle","fontSize":10.5,"color":"#ffffff"},
"encoding":{"x":{"datum":326.9,"type":"quantitative"},"y":{"datum":5036,"type":"quantitative"}}},
{"data":{"values":[{}]},"mark":{"type":"text","text":"◇","align":"center","baseline":"middle","fontSize":10,"color":"#a0a0a0"},
"encoding":{"x":{"datum":319.0,"type":"quantitative"},"y":{"datum":11403,"type":"quantitative"}}},
{"data":{"values":[{}]},"mark":{"type":"rect","filled":false,"stroke":"#a0a0a0","strokeWidth":1},
"encoding":{"x":{"datum":322.8,"type":"quantitative"},"x2":{"datum":325.3},"y":{"datum":11595,"type":"quantitative"},"y2":{"datum":11230}}},
{"data":{"values":[{}]},"mark":{"type":"rect","filled":false,"stroke":"#b00000","strokeWidth":1},
"encoding":{"x":{"datum":326.25,"type":"quantitative"},"x2":{"datum":339.6},"y":{"datum":2604.6,"type":"quantitative"},"y2":{"datum":1541.5}}},
{"data":{"values":[{}]},"mark":{"type":"point","shape":"circle","filled":true,"size":55,"color":"#8a8a8a","opacity":1},
"encoding":{"x":{"datum":0.92,"type":"quantitative"},"y":{"datum":2532.5,"type":"quantitative"}}},
{"data":{"values":[{}]},"mark":{"type":"text","text":"MYTREND2(60)","align":"left","baseline":"middle","fontSize":10,"color":"#bdbdbd"},
"encoding":{"x":{"datum":3.57,"type":"quantitative"},"y":{"datum":2532.5,"type":"quantitative"}}},
{"data":{"values":[{}]},"mark":{"type":"text","text":"情绪指标: 7.77","align":"left","baseline":"middle","fontSize":10,"color":"#e6e64c"},
"encoding":{"x":{"datum":28.1,"type":"quantitative"},"y":{"datum":2532.5,"type":"quantitative"}}},
{"data":{"values":[{}]},"mark":{"type":"rect","color":"#0c0ca8"},
"encoding":{"x":{"datum":321.5,"type":"quantitative"},"x2":{"datum":325.3},"y":{"datum":1529.8,"type":"quantitative"},"y2":{"datum":1461.8}}},
{"data":{"values":[{}]},"mark":{"type":"text","text":"--","align":"center","baseline":"middle","fontSize":9,"color":"#ffffff"},
"encoding":{"x":{"datum":323.4,"type":"quantitative"},"y":{"datum":1495.5,"type":"quantitative"}}},
{"data":{"values":[{}]},"mark":{"type":"text","text":"周线","align":"center","baseline":"middle","fontSize":10,"color":"#c8c8c8"},
"encoding":{"x":{"datum":332.9,"type":"quantitative"},"y":{"datum":1495.5,"type":"quantitative"}}}
]
},
{
"width":1037,"height":138,
"data":{"name":"ind"},
"mark":{"type":"line","color":"#ffff00","strokeWidth":2},
"encoding":{
"x":{"field":"w","type":"quantitative","scale":{"domain":[-0.978,326.25],"nice":false,"zero":false,"padding":0},
"axis":{"orient":"bottom","title":null,"values":[-0.97,16.85,26.1,34.24,43.14,52.35,61.41,69.52,78.76,86.9,95.58,104.73,114.1,122.25,130.92,140.08,148.28,157.43,166.58,174.22,184,192.68,201.93,210.03,219.28,228.27,237.17,245.79,255.1,262.7,271.35,280.5,289.84,297.98],
"labelExpr":"datum.value < 0 ? '2020年' : (round((datum.value - 16.85) / 8.785) % 6 == 0 ? '12' : round((datum.value - 16.85) / 8.785) % 6 == 1 ? '2' : round((datum.value - 16.85) / 8.785) % 6 == 2 ? '4' : round((datum.value - 16.85) / 8.785) % 6 == 3 ? '6' : round((datum.value - 16.85) / 8.785) % 6 == 4 ? '8' : '10')",
"labelAlign":"left","labelOffset":2,"labelBaseline":"top","labelFontSize":10,"tickSize":13,"labelPadding":-11,"tickColor":"#800000","domainColor":"#b00000","labelOverlap":false,"labelSeparation":0,"labelFlush":false,"labelBound":false}},
"y":{"field":"v","type":"quantitative","scale":{"domain":[0,48.7],"nice":false,"zero":false},
"axis":{"orient":"right","title":null,"values":[10,20,30,40],"format":".2f","labelAlign":"right","labelPadding":35,"tickSize":4,"labelOverlap":false,"labelFlush":false,"labelBound":false}}
}
}
]
}
